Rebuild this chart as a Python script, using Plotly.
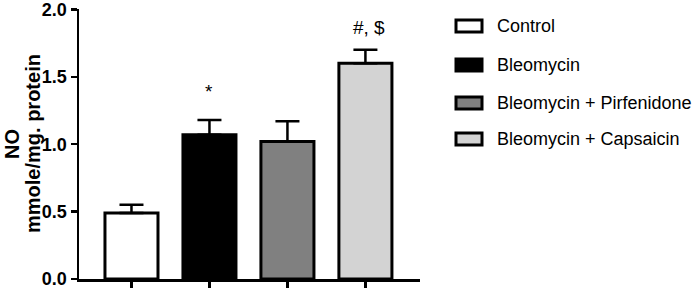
import plotly.graph_objects as go

groups = ["Control", "Bleomycin", "Bleomycin + Pirfenidone", "Bleomycin + Capsaicin"]
means = [0.49, 1.07, 1.02, 1.60]
errors = [0.06, 0.11, 0.15, 0.10]
fills = ["#ffffff", "#000000", "#808080", "#d3d3d3"]
sig_labels = ["", "*", "", "#, $"]
y_ticks = [0, 0.5, 1.0, 1.5, 2.0]
y_ticklabels = ["0.0", "0.5", "1.0", "1.5", "2.0"]

W, H = 699, 288
# plot area in pixels: x 79..420, y 9..279
L, R, T, B = 79, W - 420, 9, H - 279
pw, ph = W - L - R, H - T - B
FONT = "Liberation Sans, Arial"

def px2paper_x(px):
    return (px - L) / pw

def px2paper_y(py):
    return (H - B - py) / ph

fig = go.Figure()
x = list(range(len(groups)))
fig.add_trace(go.Bar(
    x=x, y=means, width=0.68,
    marker=dict(color=fills, line=dict(color="black", width=3)),
    error_y=dict(type="data", array=errors, arrayminus=[0]*len(errors), symmetric=False,
                 color="black", thickness=2.5, width=12),
    showlegend=False, cliponaxis=False, hoverinfo="skip",
))

annotations = []
for i, (m, e, s) in enumerate(zip(means, errors, sig_labels)):
    if s:
        star = s == "*"
        annotations.append(dict(x=i, y=m + e, xref="x", yref="y", text=s, showarrow=False,
                                yshift=28 if star else 22, xshift=0 if star else 4,
                                font=dict(family=FONT, size=19, color="black")))

# y-axis title (two bold lines)
for txt, px in [("<b>NO</b>", 12), ("<b>mmole/mg. protein</b>", 33)]:
    annotations.append(dict(x=px2paper_x(px), y=px2paper_y(144), xref="paper", yref="paper", text=txt,
                            showarrow=False, textangle=-90, xanchor="center", yanchor="middle",
                            font=dict(family=FONT, size=20, color="black")))

# custom legend
legend_y = [26, 65, 103, 139]
shapes = []
for name, col, ly in zip(groups, fills, legend_y):
    shapes.append(dict(type="rect", xref="paper", yref="paper",
                       x0=px2paper_x(456), x1=px2paper_x(482),
                       y0=px2paper_y(ly + 6), y1=px2paper_y(ly - 6),
                       fillcolor=col, line=dict(color="black", width=3)))
    annotations.append(dict(x=px2paper_x(495), y=px2paper_y(ly), xref="paper", yref="paper",
                            text=name, showarrow=False, xanchor="left", yanchor="middle",
                            font=dict(family=FONT, size=18, color="black")))

fig.update_layout(
    width=W, height=H,
    margin=dict(l=L, r=R, t=T, b=B, autoexpand=False),
    plot_bgcolor="white", paper_bgcolor="white",
    shapes=shapes, annotations=annotations,
    xaxis=dict(range=[-0.673, 3.70], tickvals=x, ticktext=["", "", "", ""],
               showline=True, linecolor="black", linewidth=2.5,
               ticks="outside", ticklen=7, tickwidth=2.5, tickcolor="black",
               showgrid=False, zeroline=False, automargin=False),
    yaxis=dict(range=[0, 2.003], tickvals=y_ticks, ticktext=y_ticklabels,
               showline=True, linecolor="black", linewidth=2.5,
               ticks="outside", ticklen=6, tickwidth=2.5, tickcolor="black",
               showgrid=False, zeroline=False, automargin=False, ticklabeloverflow="allow",
               tickfont=dict(family=FONT, size=18, color="black", weight="bold")),
)

fig.write_html("out.html", config={"displayModeBar": False, "staticPlot": True},
               post_script="document.body.style.margin='0';document.body.style.overflow='hidden';")
